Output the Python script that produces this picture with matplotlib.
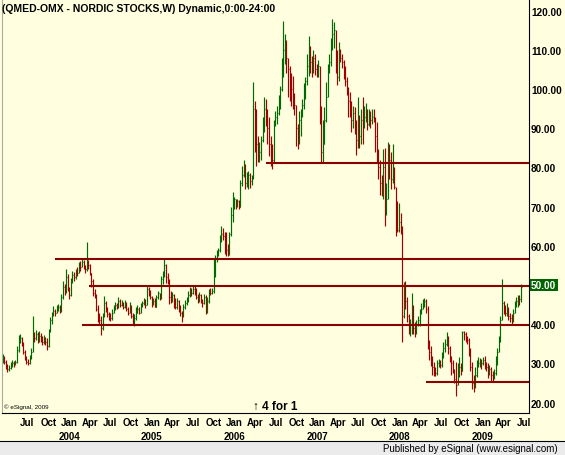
import matplotlib
matplotlib.use('Agg')
import matplotlib.pyplot as plt
import matplotlib.dates as mdates
import matplotlib.transforms as mtransforms
from matplotlib.patches import Rectangle
from matplotlib.lines import Line2D
import numpy as np
import pandas as pd
from datetime import datetime

plt.rcParams['font.family'] = ['Liberation Sans', 'DejaVu Sans']

# weekly bars, QMED-OMX
closes = [
    31.0, 30.5, 29.5, 28.5, 28.8, 29.5, 30.0, 29.8, 30.3, 33.5,
    36.0, 36.5, 35.0, 33.0, 31.5, 30.5, 30.0, 31.5, 33.0, 37.0,
    36.5, 37.5, 36.0, 37.0, 36.5, 35.5, 36.0, 35.5, 34.5, 38.0,
    41.0, 42.5, 43.5, 43.0, 44.0, 44.5, 43.5, 47.0, 49.5, 48.5,
    52.0, 49.0, 47.5, 51.0, 52.5, 52.0, 53.5, 53.0, 55.0, 54.5,
    56.0, 55.0, 54.0, 56.5, 55.0, 53.0, 51.0, 48.0, 47.5, 44.0, 43.0,
    41.0, 39.0, 42.0, 45.5, 44.0, 42.5, 42.0, 41.5, 43.0, 44.0,
    45.0, 44.5, 46.0, 45.0, 45.5, 44.5, 45.5, 44.0, 43.0, 45.0,
    42.0, 41.0, 41.5, 43.0, 44.0, 43.0, 45.0, 45.5, 46.0, 45.0,
    49.0, 48.5, 47.0, 45.0, 46.0, 44.5, 47.0, 48.0, 46.5, 51.5,
    53.0, 55.0, 52.0, 51.5, 47.0, 46.0, 47.5, 45.0, 44.5, 46.0,
    44.0, 43.0, 42.0, 44.5, 45.5, 46.0, 47.5, 48.5, 48.0, 49.0,
    48.5, 47.0, 46.5, 47.5, 46.0, 45.5, 47.0, 43.0, 46.0, 48.5,
    48.0, 48.5, 52.0, 57.0, 58.0, 59.0, 62.0, 63.0, 62.5, 61.0,
    59.0, 58.0, 63.0, 68.0, 71.0, 72.0, 70.5, 71.5, 70.0, 76.0,
    78.0, 80.0, 76.0, 77.5, 78.0, 76.5, 77.0, 95.0, 90.0, 86.0, 83.0, 84.0,
    87.0, 91.0, 95.0, 93.0, 90.0, 86.0, 84.0, 82.0, 91.0, 93.0,
    94.0, 97.0, 100.0, 106.0, 110.0, 112.0, 108.0, 105.0, 103.0, 100.0,
    98.0, 96.0, 90.0, 86.0, 92.0, 94.0, 96.0, 100.0, 102.0, 106.0,
    109.0, 107.0, 106.0, 108.0, 105.0, 104.0, 106.0, 95.0, 84.0, 86.0,
    92.0, 98.0, 104.0, 107.0, 111.0, 114.0, 115.0, 108.0, 103.0, 109.0,
    108.0, 107.0, 104.0, 102.0, 100.0, 97.0, 95.0, 92.0, 94.0, 89.0,
    87.0, 90.0, 88.0, 92.0, 91.0, 93.0, 94.0, 91.0, 93.0, 92.0,
    93.0, 92.0, 88.0, 83.0, 80.0, 76.0, 73.0, 80.0, 69.0, 72.0,
    84.0, 82.0, 77.0, 80.0, 75.0, 68.0, 64.0, 66.0, 65.0, 42.0,
    48.0, 46.0, 42.0, 39.0, 40.0, 45.0, 39.0, 38.0, 40.0, 41.0,
    43.0, 44.0, 45.5, 46.0, 44.0, 36.0, 33.0, 31.0, 29.0, 28.0,
    27.5, 30.0, 30.5, 29.5, 32.0, 34.0, 35.0, 37.0, 34.0, 32.0,
    30.0, 28.0, 26.0, 24.5, 27.0, 29.0, 28.0, 38.0, 37.5, 36.5,
    36.0, 34.0, 29.0, 25.0, 24.0, 27.0, 29.5, 30.0, 30.5, 30.0,
    31.0, 30.0, 29.0, 28.0, 28.5, 27.0, 26.5, 27.5, 30.0, 33.0,
    36.0, 41.0, 45.5, 44.0, 43.0, 44.5, 42.0, 41.5, 40.5, 43.0,
    45.0, 46.0, 47.0, 46.5, 49.5,
]
highs = [
    32.5, 31.8, 31.0, 29.8, 29.5, 30.4, 30.8, 30.6, 31.0, 34.5,
    37.2, 37.4, 36.8, 35.5, 33.5, 32.0, 31.2, 32.2, 34.0, 42.0,
    38.0, 38.5, 38.0, 38.2, 37.8, 37.0, 37.2, 36.8, 36.5, 38.8,
    41.8, 43.2, 44.6, 44.0, 45.0, 45.2, 45.0, 47.8, 51.0, 50.4,
    54.2, 52.8, 49.5, 51.8, 53.6, 53.4, 54.2, 54.5, 56.0, 56.2,
    56.8, 56.5, 55.2, 61.0, 56.2, 55.5, 53.2, 51.5, 49.0, 47.8, 45.0,
    43.0, 42.0, 43.0, 47.3, 46.0, 44.5, 43.2, 42.8, 43.8, 45.0,
    45.8, 45.5, 47.0, 46.4, 46.2, 45.8, 46.2, 45.8, 44.5, 45.8,
    45.0, 43.0, 42.5, 44.5, 45.0, 44.5, 45.5, 46.0, 46.8, 46.5,
    49.8, 49.5, 48.8, 47.2, 46.8, 46.8, 47.5, 48.4, 48.0, 52.2,
    53.6, 56.7, 55.5, 53.0, 51.5, 48.5, 48.2, 47.8, 46.8, 46.8,
    46.2, 44.8, 43.5, 45.2, 46.2, 47.0, 48.5, 49.5, 49.2, 50.0,
    49.8, 49.2, 47.8, 48.2, 47.8, 46.5, 47.8, 47.5, 47.0, 49.0,
    49.2, 49.2, 56.7, 57.8, 59.0, 59.5, 62.8, 65.0, 64.5, 63.5,
    63.5, 60.5, 63.5, 70.0, 73.7, 72.5, 72.0, 72.0, 71.8, 76.8,
    80.5, 82.0, 81.0, 78.8, 79.0, 78.5, 78.0, 101.8, 97.0, 95.0, 88.0, 86.5,
    88.0, 93.0, 98.0, 97.5, 95.0, 93.0, 88.0, 86.0, 92.0, 94.5,
    95.7, 98.5, 100.8, 108.0, 117.4, 114.0, 112.5, 107.0, 106.0, 104.0,
    103.3, 99.0, 95.0, 91.0, 94.5, 95.0, 97.5, 101.5, 103.0, 109.0,
    113.5, 111.0, 108.5, 110.0, 109.0, 106.5, 107.5, 106.0, 95.7, 92.0,
    95.5, 101.8, 106.5, 109.0, 113.0, 117.9, 117.0, 115.0, 110.0, 112.0,
    110.2, 109.0, 107.5, 106.0, 103.0, 100.5, 99.2, 97.0, 95.7, 95.5,
    92.0, 98.0, 93.5, 95.0, 98.0, 95.7, 96.5, 95.0, 95.0, 94.5,
    95.0, 95.0, 93.0, 91.5, 84.7, 82.0, 78.0, 84.7, 85.0, 76.0,
    86.4, 86.0, 84.0, 86.0, 80.0, 72.0, 71.4, 71.0, 68.5, 61.0,
    50.8, 51.0, 47.0, 42.5, 41.3, 48.0, 45.0, 40.5, 41.0, 42.0,
    44.0, 45.5, 46.4, 46.8, 46.4, 44.6, 36.0, 34.5, 32.0, 30.5,
    29.0, 31.0, 31.2, 31.0, 33.0, 35.5, 36.3, 38.0, 37.0, 34.5,
    32.0, 31.0, 28.5, 30.4, 30.0, 31.7, 30.0, 38.4, 38.3, 38.0,
    37.0, 36.5, 34.0, 30.4, 27.0, 29.0, 31.0, 31.7, 31.5, 31.2,
    31.7, 31.8, 30.5, 30.0, 29.5, 29.0, 28.0, 28.5, 32.0, 34.0,
    37.0, 42.0, 51.5, 46.0, 45.0, 45.5, 44.5, 43.0, 42.5, 44.0,
    46.0, 47.0, 47.5, 47.5, 50.2,
]
lows = [
    30.2, 29.8, 28.6, 27.8, 28.0, 28.6, 29.2, 29.0, 29.5, 30.0,
    33.0, 35.2, 34.5, 32.5, 30.8, 29.8, 29.5, 29.8, 31.2, 33.2,
    35.5, 36.0, 35.2, 35.5, 35.4, 34.8, 35.0, 34.6, 33.5, 34.2,
    38.0, 40.2, 42.0, 42.2, 42.8, 43.5, 42.8, 43.2, 46.5, 47.5,
    48.0, 48.5, 46.4, 47.2, 50.5, 51.0, 51.6, 52.2, 53.0, 53.5,
    54.5, 54.2, 53.0, 53.5, 54.0, 52.5, 49.5, 47.2, 46.8, 43.5, 40.5,
    39.8, 37.3, 38.5, 41.8, 43.2, 41.8, 41.2, 40.8, 41.2, 42.8,
    43.6, 43.8, 44.2, 44.4, 44.6, 43.9, 44.2, 43.5, 42.4, 42.8,
    41.5, 40.0, 39.6, 41.0, 42.8, 42.5, 43.0, 44.4, 44.8, 44.2,
    44.8, 47.3, 46.5, 44.3, 44.8, 44.3, 44.6, 46.5, 46.2, 46.8,
    50.4, 52.0, 50.5, 50.3, 45.2, 45.5, 45.8, 44.2, 43.9, 44.0,
    43.2, 42.2, 40.6, 41.8, 44.0, 45.0, 45.8, 47.0, 47.2, 47.6,
    47.5, 46.5, 45.5, 45.8, 45.5, 44.5, 45.2, 42.6, 42.8, 45.5,
    47.5, 47.8, 48.0, 55.5, 56.0, 57.5, 58.5, 61.0, 61.5, 58.0,
    57.4, 57.4, 57.8, 62.5, 66.0, 69.5, 69.4, 69.8, 69.4, 69.8,
    75.3, 77.5, 74.5, 75.0, 74.5, 74.8, 75.5, 77.8, 84.0, 80.5, 81.4, 81.5,
    82.0, 86.5, 89.0, 90.5, 86.0, 83.0, 80.5, 79.6, 81.5, 90.6,
    91.0, 93.5, 95.0, 99.5, 103.0, 106.5, 104.0, 98.0, 97.0, 95.7,
    95.0, 93.5, 85.5, 84.7, 86.5, 88.0, 93.0, 95.0, 97.5, 101.0,
    103.3, 104.0, 103.0, 104.0, 103.5, 103.0, 103.0, 91.0, 81.3, 81.4,
    86.0, 91.5, 98.7, 104.5, 106.0, 110.0, 110.5, 104.0, 101.0, 102.0,
    106.8, 105.5, 102.5, 100.8, 98.5, 93.0, 93.0, 89.0, 90.0, 88.5,
    83.3, 85.0, 85.0, 86.0, 86.0, 90.0, 91.5, 89.5, 90.5, 90.0,
    91.0, 91.5, 84.0, 81.3, 77.0, 73.0, 72.7, 72.0, 65.0, 68.0,
    75.3, 77.0, 74.5, 76.0, 74.5, 62.5, 63.5, 63.5, 63.0, 35.4,
    41.5, 44.0, 40.5, 37.5, 37.0, 37.5, 37.5, 36.8, 37.5, 39.6,
    39.6, 42.5, 44.0, 44.5, 43.0, 33.7, 31.0, 29.4, 27.0, 26.8,
    26.8, 27.0, 29.0, 28.8, 29.2, 31.5, 33.0, 34.5, 32.5, 30.4,
    27.0, 27.5, 25.0, 21.7, 25.0, 26.5, 27.0, 36.7, 36.0, 35.5,
    35.0, 32.0, 28.0, 23.5, 22.7, 23.8, 26.5, 29.0, 29.0, 28.6,
    29.5, 28.5, 28.0, 26.4, 27.0, 25.6, 25.6, 26.0, 27.0, 29.5,
    33.0, 35.5, 41.0, 42.5, 42.0, 42.0, 41.0, 40.5, 40.0, 40.5,
    43.0, 44.3, 44.5, 45.0, 45.6,
]

# support / resistance lines: price level and start date
levels = [81.2, 56.7, 49.85, 39.8, 25.2]
level_starts = ['2006-05-20', '2003-10-30', '2004-03-30', '2004-02-27', '2008-04-25']
last_price = 50.00
split_date = '2006-03-25'

weeks = pd.date_range('2003-03-14', periods=len(closes), freq='7D')
x = mdates.date2num(weeks)
c = np.array(closes)
o = np.r_[c[0], c[:-1]]
hi = np.maximum(np.array(highs), np.maximum(o, c))
lo = np.minimum(np.array(lows), np.minimum(o, c))
up = c >= o
bar_cols = np.where(up, '#006a00', '#a00000')

bg = '#ffffe0'
fig = plt.figure(figsize=(5.65, 4.56), dpi=100, facecolor=bg)
ax = fig.add_axes([2 / 565, 42 / 456, 527 / 565, 414 / 456], facecolor=bg)

ax.vlines(x, lo, hi, colors=bar_cols, lw=0.85)
ax.hlines(c, x, x + 3, colors=bar_cols, lw=0.8)

xmax = datetime(2009, 7, 24)
for lev, st in zip(levels, level_starts):
    ax.hlines(lev, mdates.date2num(pd.Timestamp(st)), mdates.date2num(xmax),
              colors='#8b0000', lw=1.5, zorder=3)

ax.set_xlim(datetime(2003, 3, 11), xmax)
ax.set_ylim(17.37, 122.98)

# right price axis
ax.yaxis.tick_right()
yt = np.arange(20, 121, 10)
ax.set_yticks(yt)
ax.set_yticklabels(['' if v == last_price else f'{v:.2f}' for v in yt])
ax.tick_params(axis='y', length=0, pad=1.5, labelsize=7.2)
for t in ax.get_yticklabels():
    t.set_fontweight('bold')

# bottom time axis, quarterly labels from Jul 2003
qticks = pd.date_range('2003-07-01', '2009-07-01', freq='QS-JAN')
ax.set_xticks(mdates.date2num(qticks))
ax.set_xticklabels([d.strftime('%b') for d in qticks])
ax.tick_params(axis='x', length=0, pad=3, labelsize=7)
for t in ax.get_xticklabels():
    t.set_fontweight('bold')
trans = mtransforms.blended_transform_factory(ax.transData, ax.transAxes)
for yr in range(2004, 2010):
    ax.text(datetime(yr, 1, 1), -0.056, str(yr), transform=trans, ha='center',
            va='center', fontsize=7, fontweight='bold', clip_on=False)

ax.spines['top'].set_visible(False)
ax.spines['left'].set_color('#a8a8a8')
ax.spines['right'].set_color('black')
ax.spines['bottom'].set_color('black')

# last price box
ytrans = mtransforms.blended_transform_factory(ax.transAxes, ax.transData)
ax.text(1.004, last_price, f'{last_price:.2f}', transform=ytrans, ha='left', va='center',
        fontsize=7.2, fontweight='bold', color='white', clip_on=False,
        bbox=dict(boxstyle='square,pad=0.12', fc='#006400', ec='none'))

# title and notes
fig.text(2 / 565, 1 - 9 / 456, '(QMED-OMX - NORDIC STOCKS,W) Dynamic,0:00-24:00',
         ha='left', va='center', fontsize=7.5, fontweight='bold')
ax.text(pd.Timestamp(split_date), 0.017, '\u2191 4 for 1', transform=trans,
        ha='left', va='center', fontsize=8.5, fontweight='bold')
ax.text(0.003, 0.017, '\u00a9 eSignal, 2009', transform=ax.transAxes,
        ha='left', va='center', fontsize=4.5)

# footer strip
fig.patches.append(Rectangle((0, 0), 1, 14 / 456, transform=fig.transFigure,
                             facecolor='#ebebeb', edgecolor='none', zorder=0))
fig.lines.append(Line2D([0, 1], [14 / 456, 14 / 456], transform=fig.transFigure,
                        color='black', lw=0.8))
fig.text(558 / 565, 7 / 456, 'Published by eSignal (www.esignal.com)', ha='right',
         va='center', fontsize=7)

fig.savefig('out.png', dpi=100, facecolor=bg)
